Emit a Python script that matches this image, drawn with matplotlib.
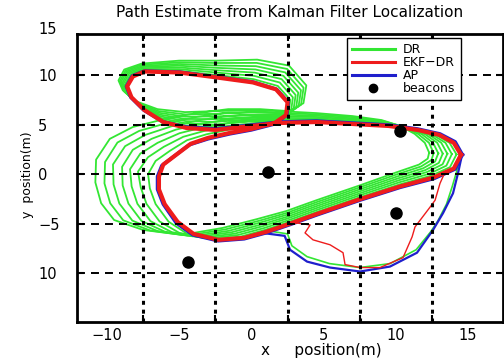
import numpy as np
import matplotlib
matplotlib.use("Agg")
import matplotlib.pyplot as plt
from matplotlib.lines import Line2D
import matplotlib.transforms as mtransforms

# ---------------- data (metres) ----------------
# EKF-DR estimate, one figure-eight lap (stations along the route)
ekf_x = [14.5, 14.0, 13.0, 11.5, 9.5, 7.0, 4.5, 2.0, 0.0, -2.5, -4.5, -6.1, -7.4, -8.3, -8.6,
         -8.2, -7.4, -5.0, -2.4, 0.1, 1.7, 2.5, 2.4, 1.6, 0.0, -1.5, -3.0, -4.2, -5.2, -6.1,
         -6.4, -6.4, -6.0, -5.1, -4.0, -2.3, -0.5, 1.0, 2.6, 4.5, 7.5, 10.3, 12.6, 14.0]
ekf_y = [2.0, 3.2, 4.0, 4.5, 4.9, 5.1, 5.3, 5.2, 4.9, 4.5, 4.7, 5.3, 6.5, 7.8, 8.9,
         9.9, 10.4, 10.3, 9.8, 9.3, 8.6, 7.3, 6.0, 5.2, 4.6, 4.2, 3.7, 3.1, 2.0, 1.0,
         -0.2, -1.5, -3.0, -4.8, -6.0, -6.6, -6.4, -5.8, -5.0, -4.0, -2.5, -1.2, -0.3, 0.6]
# EKF-DR on the southern detour
ekf_south_x = [2.6, 3.16, 4.06, 3.71, 4.26, 5.44, 6.34, 6.48, 7.52, 8.9, 10.49, 11.12, 11.32,
               12.36, 12.71, 13.05, 13.4]
ekf_south_y = [-5.0, -4.9, -5.1, -5.9, -6.6, -7.1, -7.9, -9.1, -9.4, -9.4, -8.4, -6.3, -5.3,
               -3.3, -2.6, -0.9, 0.25]

# AP (reference position), one figure-eight lap
ap_x = [14.6, 14.1, 13.05, 11.5, 9.5, 7.0, 4.5, 2.0, 0.0, -2.5, -4.5, -6.1, -7.45, -8.35, -8.65,
        -8.25, -7.4, -5.0, -2.4, 0.1, 1.75, 2.55, 2.45, 1.6, 0.0, -1.5, -3.0, -4.3, -5.3, -6.2,
        -6.5, -6.5, -6.1, -5.2, -4.05, -2.3, -0.5, 1.0, 2.6, 4.5, 7.5, 10.3, 12.65, 14.1]
ap_y = [2.0, 3.3, 4.1, 4.6, 5.0, 5.2, 5.4, 5.3, 5.0, 4.6, 4.8, 5.3, 6.5, 7.8, 8.9,
        9.95, 10.45, 10.35, 9.85, 9.35, 8.6, 7.3, 6.0, 5.1, 4.5, 4.1, 3.6, 3.0, 1.9, 0.9,
        -0.2, -1.5, -3.0, -4.9, -6.1, -6.7, -6.5, -5.9, -5.1, -4.1, -2.6, -1.3, -0.4, 0.55]
# AP on the southern detour
ap_south_x = [1.0, 2.3, 2.67, 3.85, 5.44, 7.52, 9.59, 11.46, 12.57, 13.26, 13.95, 14.3, 14.5]
ap_south_y = [-5.95, -6.2, -7.6, -8.8, -9.4, -9.8, -9.3, -7.9, -5.6, -3.9, -1.9, 0.15, 1.5]

# DR (dead reckoning): eight drifting laps, positions of laps 0..7 at each station
dr_x_by_station = [
    [14.5, 14.19, 13.87, 13.56, 13.24, 12.93, 12.61, 12.3],
    [14.0, 13.71, 13.43, 13.14, 12.86, 12.57, 12.29, 12.0],
    [13.0, 12.76, 12.51, 12.27, 12.03, 11.79, 11.54, 11.3],
    [11.5, 11.33, 11.16, 10.99, 10.81, 10.64, 10.47, 10.3],
    [9.5, 9.43, 9.36, 9.29, 9.21, 9.14, 9.07, 9.0],
    [7.0, 7.0, 7.0, 7.0, 7.0, 7.0, 7.0, 7.0],
    [4.5, 4.5, 4.5, 4.5, 4.5, 4.5, 4.5, 4.5],
    [2.0, 2.0, 2.0, 2.0, 2.0, 2.0, 2.0, 2.0],
    [0.0, 0.0, 0.0, 0.0, 0.0, 0.0, 0.0, 0.0],
    [-2.5, -2.5, -2.5, -2.5, -2.5, -2.5, -2.5, -2.5],
    [-4.5, -4.51, -4.53, -4.54, -4.56, -4.57, -4.59, -4.6],
    [-6.1, -6.16, -6.21, -6.27, -6.33, -6.39, -6.44, -6.5],
    [-7.4, -7.49, -7.57, -7.66, -7.74, -7.83, -7.91, -8.0],
    [-8.3, -8.39, -8.47, -8.56, -8.64, -8.73, -8.81, -8.9],
    [-8.6, -8.69, -8.77, -8.86, -8.94, -9.03, -9.11, -9.2],
    [-8.2, -8.29, -8.37, -8.46, -8.54, -8.63, -8.71, -8.8],
    [-7.4, -7.43, -7.46, -7.49, -7.51, -7.54, -7.57, -7.6],
    [-5.0, -5.0, -5.0, -5.0, -5.0, -5.0, -5.0, -5.0],
    [-2.4, -2.4, -2.4, -2.4, -2.4, -2.4, -2.4, -2.4],
    [0.1, 0.14, 0.19, 0.23, 0.27, 0.31, 0.36, 0.4],
    [1.7, 1.83, 1.96, 2.09, 2.21, 2.34, 2.47, 2.6],
    [2.5, 2.69, 2.87, 3.06, 3.24, 3.43, 3.61, 3.8],
    [2.4, 2.57, 2.74, 2.91, 3.09, 3.26, 3.43, 3.6],
    [1.6, 1.74, 1.89, 2.03, 2.17, 2.31, 2.46, 2.6],
    [0.0, 0.09, 0.17, 0.26, 0.34, 0.43, 0.51, 0.6],
    [-1.5, -1.51, -1.53, -1.54, -1.56, -1.57, -1.59, -1.6],
    [-3.0, -3.11, -3.23, -3.34, -3.46, -3.57, -3.69, -3.8],
    [-4.2, -4.46, -4.71, -4.97, -5.23, -5.49, -5.74, -6.0],
    [-5.2, -5.63, -6.06, -6.49, -6.91, -7.34, -7.77, -8.2],
    [-6.1, -6.63, -7.16, -7.69, -8.21, -8.74, -9.27, -9.8],
    [-6.45, -7.15, -7.85, -8.4, -8.95, -9.58, -10.13, -10.75],
    [-6.4, -7.03, -7.66, -8.29, -8.91, -9.54, -10.17, -10.8],
    [-6.0, -6.63, -7.26, -7.89, -8.51, -9.14, -9.77, -10.4],
    [-5.1, -5.73, -6.36, -6.99, -7.61, -8.24, -8.87, -9.5],
    [-4.0, -4.5, -5.0, -5.5, -6.0, -6.5, -7.0, -7.5],
    [-2.3, -2.66, -3.01, -3.37, -3.73, -4.09, -4.44, -4.8],
    [-0.5, -0.71, -0.93, -1.14, -1.36, -1.57, -1.79, -2.0],
    [1.0, 0.91, 0.83, 0.74, 0.66, 0.57, 0.49, 0.4],
    [2.6, 2.57, 2.54, 2.51, 2.49, 2.46, 2.43, 2.4],
    [4.5, 4.5, 4.5, 4.5, 4.5, 4.5, 4.5, 4.5],
    [7.5, 7.5, 7.5, 7.5, 7.5, 7.5, 7.5, 7.5],
    [10.3, 10.26, 10.21, 10.17, 10.13, 10.09, 10.04, 10.0],
    [12.6, 12.46, 12.31, 12.17, 12.03, 11.89, 11.74, 11.6],
    [14.0, 13.74, 13.49, 13.23, 12.97, 12.71, 12.46, 12.2],
]
dr_y_by_station = [
    [2.0, 2.03, 2.06, 2.09, 2.11, 2.14, 2.17, 2.2],
    [3.2, 3.2, 3.2, 3.2, 3.2, 3.2, 3.2, 3.2],
    [4.0, 4.01, 4.03, 4.04, 4.06, 4.07, 4.09, 4.1],
    [4.5, 4.56, 4.61, 4.67, 4.73, 4.79, 4.84, 4.9],
    [4.9, 4.99, 5.07, 5.16, 5.24, 5.33, 5.41, 5.5],
    [5.1, 5.21, 5.33, 5.44, 5.56, 5.67, 5.79, 5.9],
    [5.3, 5.43, 5.56, 5.69, 5.81, 5.94, 6.07, 6.2],
    [5.2, 5.37, 5.54, 5.71, 5.89, 6.06, 6.23, 6.4],
    [4.9, 5.13, 5.36, 5.59, 5.81, 6.04, 6.27, 6.5],
    [4.5, 4.77, 5.04, 5.31, 5.59, 5.86, 6.13, 6.4],
    [4.7, 4.93, 5.16, 5.39, 5.61, 5.84, 6.07, 6.3],
    [5.3, 5.49, 5.67, 5.86, 6.04, 6.23, 6.41, 6.6],
    [6.5, 6.63, 6.76, 6.89, 7.01, 7.14, 7.27, 7.4],
    [7.8, 7.9, 8.0, 8.1, 8.2, 8.3, 8.4, 8.5],
    [8.9, 8.99, 9.07, 9.16, 9.24, 9.33, 9.41, 9.5],
    [9.9, 10.0, 10.1, 10.2, 10.3, 10.4, 10.5, 10.6],
    [10.4, 10.51, 10.63, 10.74, 10.86, 10.97, 11.09, 11.2],
    [10.3, 10.47, 10.64, 10.81, 10.99, 11.16, 11.33, 11.5],
    [9.8, 10.04, 10.29, 10.53, 10.77, 11.01, 11.26, 11.5],
    [9.3, 9.63, 9.96, 10.29, 10.61, 10.94, 11.27, 11.6],
    [8.6, 8.94, 9.29, 9.63, 9.97, 10.31, 10.66, 11.0],
    [7.3, 7.54, 7.79, 8.03, 8.27, 8.51, 8.76, 9.0],
    [6.0, 6.17, 6.34, 6.51, 6.69, 6.86, 7.03, 7.2],
    [5.2, 5.37, 5.54, 5.71, 5.89, 6.06, 6.23, 6.4],
    [4.6, 4.89, 5.17, 5.46, 5.74, 6.03, 6.31, 6.6],
    [4.2, 4.54, 4.89, 5.23, 5.57, 5.91, 6.26, 6.6],
    [3.7, 4.06, 4.41, 4.77, 5.13, 5.49, 5.84, 6.2],
    [3.1, 3.46, 3.81, 4.17, 4.53, 4.89, 5.24, 5.6],
    [2.0, 2.4, 2.8, 3.2, 3.6, 4.0, 4.4, 4.8],
    [1.0, 1.37, 1.74, 2.11, 2.49, 2.86, 3.23, 3.6],
    [-0.2, 0.04, 0.29, 0.53, 0.77, 1.01, 1.26, 1.5],
    [-1.5, -1.4, -1.3, -1.2, -1.1, -1.0, -0.9, -0.8],
    [-3.0, -2.99, -2.97, -2.96, -2.94, -2.93, -2.91, -2.9],
    [-4.8, -4.77, -4.74, -4.71, -4.69, -4.66, -4.63, -4.6],
    [-6.0, -5.94, -5.89, -5.83, -5.77, -5.71, -5.66, -5.6],
    [-6.6, -6.53, -6.46, -6.39, -6.31, -6.24, -6.17, -6.1],
    [-6.4, -6.26, -6.11, -5.97, -5.83, -5.69, -5.54, -5.4],
    [-5.8, -5.61, -5.43, -5.24, -5.06, -4.87, -4.69, -4.5],
    [-5.0, -4.81, -4.63, -4.44, -4.26, -4.07, -3.89, -3.7],
    [-4.0, -3.8, -3.6, -3.4, -3.2, -3.0, -2.8, -2.6],
    [-2.5, -2.3, -2.1, -1.9, -1.7, -1.5, -1.3, -1.1],
    [-1.2, -1.0, -0.8, -0.6, -0.4, -0.2, 0.0, 0.2],
    [-0.3, -0.11, 0.07, 0.26, 0.44, 0.63, 0.81, 1.0],
    [0.6, 0.74, 0.89, 1.03, 1.17, 1.31, 1.46, 1.6],
]
# DR on the southern detour
dr_south_x = [1.2, 2.5, 2.8, 3.85, 5.4, 7.5, 9.6, 11.4, 12.4, 12.9, 13.5, 13.9, 14.2, 14.4]
dr_south_y = [-5.7, -6.0, -7.2, -8.3, -9.0, -9.4, -9.0, -7.6, -5.8, -4.7, -3.0, -1.2, 0.3, 1.5]

# beacons
beacon_x = [-4.39, 1.15, 10.29, 10.01]
beacon_y = [-8.84, 0.25, 4.39, -3.89]

# axes text
x_tick_values = [-10, -5, 0, 5, 10, 15]
x_tick_labels = ["\u221210", "\u22125", "0", "5", "10", "15"]
x_grid_values = [-7.5, -2.5, 2.5, 7.5, 12.5]
y_tick_values = [-10, -5, 0, 5, 10]
y_tick_labels = ["10", "\u22125", "0", "5", "10"]
y_top_label = "15"
y_top_label_value = 14.6

# ---------------- figure ----------------
GREEN = "#33e633"
RED = "#ee1c1c"
BLUE = "#1f1fcc"

fig = plt.figure(figsize=(5.04, 3.6), dpi=100)
ax = fig.add_axes([77 / 504, 38 / 360, 426 / 504, 288 / 360])
ax.set_xlim(-12.07, 17.41)
ax.set_ylim(-14.9, 14.19)

# DR laps
dr_laps_x = np.array(dr_x_by_station).T
dr_laps_y = np.array(dr_y_by_station).T
for lx, ly in zip(dr_laps_x, dr_laps_y):
    ax.plot(np.append(lx, lx[0]), np.append(ly, ly[0]), color=GREEN, lw=1.3,
            solid_joinstyle="round", zorder=2.0)
ax.plot(dr_south_x, dr_south_y, color=GREEN, lw=1.2, zorder=2.0)

# AP
ax.plot(np.append(ap_x, ap_x[0]), np.append(ap_y, ap_y[0]), color=BLUE, lw=2.5,
        solid_joinstyle="round", zorder=2.1)
ax.plot(ap_south_x, ap_south_y, color=BLUE, lw=1.6, zorder=2.1)

# EKF-DR
ax.plot(np.append(ekf_x, ekf_x[0]), np.append(ekf_y, ekf_y[0]), color=RED, lw=3.0,
        solid_joinstyle="round", zorder=2.2)
ax.plot(ekf_south_x, ekf_south_y, color=RED, lw=1.0, zorder=2.2)

# beacons
ax.plot(beacon_x, beacon_y, "o", color="black", ms=8, zorder=2.3)

# ticks & grid
ax.set_xticks(x_tick_values)
ax.set_xticklabels(x_tick_labels)
ax.set_xticks(x_grid_values, minor=True)
ax.set_yticks(y_tick_values)
ax.set_yticklabels(y_tick_labels)
ax.tick_params(axis="x", which="major", length=0, pad=4, labelsize=10.5)
ax.tick_params(axis="x", which="minor", direction="in", length=5, width=1.5,
               top=True, bottom=True)
ax.tick_params(axis="y", which="major", direction="in", length=5, width=1.5,
               left=True, right=True, pad=28, labelsize=10.5)
for lab in ax.get_yticklabels():
    lab.set_horizontalalignment("left")
ax.set_axisbelow(False)
ax.grid(False)
ax.xaxis.grid(True, which="minor", color="black", lw=2.2, linestyle=(0, (1.3, 1.6)))
ax.yaxis.grid(True, which="major", color="black", lw=1.4, linestyle=(0, (4.1, 3.1)))

trans = mtransforms.blended_transform_factory(ax.transAxes, ax.transData)
ax.text(-39 / 426, y_top_label_value, y_top_label, transform=trans, ha="left", va="center",
        fontsize=10.5, clip_on=False)

for side in ["left", "bottom", "top", "right"]:
    ax.spines[side].set_linewidth(2.0)

ax.set_title("Path Estimate from Kalman Filter Localization", fontsize=11, pad=12)
ax.set_xlabel("x     position(m)", fontsize=11)
ax.xaxis.label.set_va("center")
ax.xaxis.set_label_coords((321 - 77) / 426, (322 - 350) / 288)
ax.set_ylabel("y  position(m)", fontsize=9)
ax.yaxis.label.set_va("center")
ax.yaxis.set_label_coords((28 - 77) / 426, (322 - 175) / 288)

handles = [
    Line2D([], [], color=GREEN, lw=2.2),
    Line2D([], [], color=RED, lw=2.2),
    Line2D([], [], color=BLUE, lw=2.2),
    Line2D([], [], color="black", marker="o", ms=6, linestyle="none"),
]
leg = ax.legend(handles, ["DR", "EKF\u2212DR", "AP", "beacons"], loc="upper left",
                bbox_to_anchor=(347 / 504, 1 - 38 / 360), bbox_transform=fig.transFigure,
                borderaxespad=0, fontsize=9, handlelength=3.4, handletextpad=0.7,
                labelspacing=0.0, borderpad=0.4, fancybox=False, framealpha=1,
                edgecolor="black")
leg.get_frame().set_linewidth(1.0)

fig.savefig("out.png", dpi=100)
